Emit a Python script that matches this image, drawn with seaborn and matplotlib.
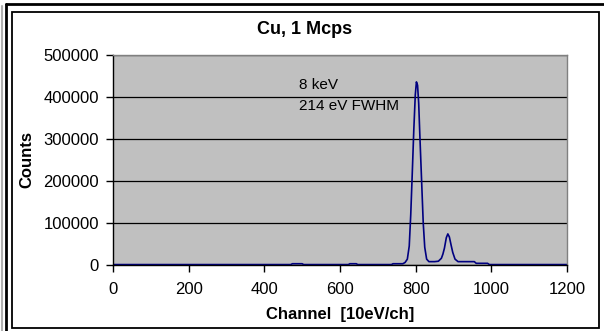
import numpy as np
import pandas as pd
import matplotlib
matplotlib.use("Agg")
import matplotlib.pyplot as plt
import seaborn as sns
from matplotlib.patches import Rectangle
from matplotlib.lines import Line2D

# Spectrum (channel, counts)
channel = [0, 100, 200, 300, 400, 470, 474, 500, 504, 622, 626, 643, 647,
           736, 740, 766, 772, 778, 783, 787, 791, 795, 799, 802, 805, 808,
           811, 814, 817, 820, 824, 829, 835, 850, 860, 868, 872, 876, 881,
           885, 889, 894, 898, 904, 912, 930, 955, 960, 990, 995, 1100, 1200]
counts = [1000, 1000, 1000, 1000, 1000, 1000, 3000, 3000, 1000, 1000, 3000, 3000, 1000,
          1000, 3000, 3000, 6000, 14000, 45000, 120000, 218000, 320000, 405000, 436000, 428000, 385000,
          310000, 240000, 170000, 100000, 42000, 14000, 8000, 8000, 9000, 16000, 26000, 40000, 65000,
          74000, 67000, 46000, 30000, 14000, 8000, 8000, 8000, 4000, 4000, 1000, 1000, 1000]

x_ticks = [0, 200, 400, 600, 800, 1000, 1200]
y_ticks = [0, 100000, 200000, 300000, 400000, 500000]

df = pd.DataFrame({"Channel": channel, "Counts": counts})

sns.set_style("ticks")
plt.rcParams['font.family'] = ['Liberation Sans', 'DejaVu Sans']
plt.rcParams['text.color'] = 'black'
plt.rcParams['axes.labelcolor'] = 'black'

W, H = 604, 331
fig = plt.figure(figsize=(W / 100, H / 100), dpi=100)
fig.patch.set_facecolor("white")

# plot area in pixel terms
left, right, top, bottom = 113, 567, 55, 265
ax = fig.add_axes([left / W, 1 - bottom / H, (right - left) / W, (bottom - top) / H])
ax.set_facecolor("#C0C0C0")

sns.lineplot(data=df, x="Channel", y="Counts", ax=ax, color="#000080", lw=1.2)

ax.set_xlim(0, 1200)
ax.set_ylim(0, 500000)
ax.set_xticks(x_ticks)
ax.set_yticks(y_ticks)
ax.set_xticklabels([str(t) for t in x_ticks])
ax.set_yticklabels([str(t) for t in y_ticks])
ax.tick_params(axis="both", direction="out", length=5, width=1, color="black",
               labelsize=12, labelcolor="black")
ax.tick_params(axis="x", pad=7)
ax.tick_params(axis="y", pad=5)

ax.yaxis.grid(True, color="black", lw=0.9)
ax.set_axisbelow(True)
for s in ["left", "bottom"]:
    ax.spines[s].set_color("black")
    ax.spines[s].set_linewidth(1)
for s in ["top", "right"]:
    ax.spines[s].set_visible(True)
    ax.spines[s].set_color("#808080")
    ax.spines[s].set_linewidth(1)

ax.set_xlabel("Channel  [10eV/ch]", fontsize=12, fontweight="bold", color="black")
ax.set_ylabel("Counts", fontsize=12, fontweight="bold", color="black")
ax.xaxis.set_label_coords(0.5, (bottom - 307) / (bottom - top))
ax.yaxis.set_label_coords((34 - left) / (right - left), 0.5)

ax.text(492, 419000, "8 keV", fontsize=11, va="baseline", color="black")
ax.text(492, 369000, "214 eV FWHM", fontsize=11, va="baseline", color="black")

fig.text(305 / W, 1 - 30 / H, "Cu, 1 Mcps", fontsize=13, fontweight="bold",
         ha="center", va="center", color="black")

# chart frame and page borders
fig.patches.append(Rectangle((12 / W, 1 - 328 / H), (599 - 12) / W, (328 - 12) / H,
                             transform=fig.transFigure, fill=False,
                             edgecolor="black", lw=1.3))
fig.lines.append(Line2D([6 / W, 6 / W], [0, 1 - 4 / H], transform=fig.transFigure,
                        color="black", lw=2))
fig.lines.append(Line2D([6 / W, 1], [1 - 4 / H, 1 - 4 / H], transform=fig.transFigure,
                        color="black", lw=2))
fig.lines.append(Line2D([1.5 / W, 1.5 / W], [0, 1 - 6 / H], transform=fig.transFigure,
                        color="#B0B0B0", lw=1.5))

fig.savefig("out.png", dpi=100)
